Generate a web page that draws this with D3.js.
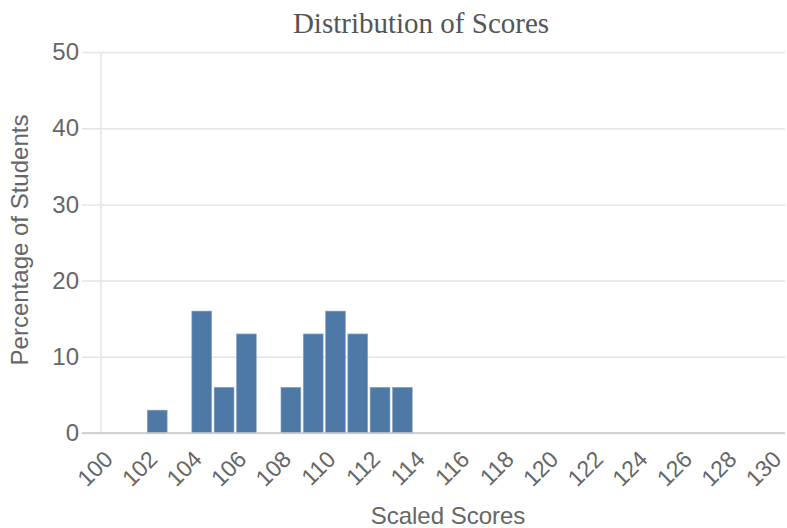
<!DOCTYPE html>
<html>
<head>
<meta charset="utf-8">
<script src="https://cdn.jsdelivr.net/npm/d3@7"></script>
<style>
  html, body { margin: 0; padding: 0; background: #fff; }
  svg { display: block; }
</style>
</head>
<body>
<svg id="chart" width="787" height="528"></svg>
<script>
const scores = [102, 104, 105, 106, 108, 109, 110, 111, 112, 113];
const percents = [3, 16, 6, 13, 6, 13, 16, 13, 6, 6];
const xTickValues = [100, 102, 104, 106, 108, 110, 112, 114, 116, 118, 120, 122, 124, 126, 128, 130];
const yTickValues = [0, 10, 20, 30, 40, 50];
const titleText = "Distribution of Scores";
const xTitle = "Scaled Scores";
const yTitle = "Percentage of Students";

const svg = d3.select("#chart");
const plotLeft = 101, plotRight = 785, plotTop = 52, plotBottom = 433;

const x = d3.scaleLinear().domain([100, 130]).range([101.5, 770]);
const y = d3.scaleLinear().domain([0, 50]).range([plotBottom, plotTop]);

const textColor = "#666";
const gridColor = "#e4e4e4";

// Title
svg.append("text")
  .attr("x", 421).attr("y", 33)
  .attr("text-anchor", "middle")
  .attr("font-family", "'Liberation Serif', 'Times New Roman', serif")
  .attr("font-size", 29)
  .attr("fill", "#555")
  .text(titleText);

// Y grid + ticks
const yAxis = d3.axisLeft(y).tickValues(yTickValues).tickSize(plotRight - 82).tickPadding(3);
const yg = svg.append("g")
  .attr("transform", `translate(${plotRight},0)`)
  .call(yAxis);
yg.select(".domain").remove();
yg.selectAll(".tick line").attr("stroke", gridColor).attr("stroke-width", 1.5);
yg.selectAll(".tick text")
  .attr("fill", textColor)
  .attr("font-family", "'Liberation Sans', Arial, sans-serif")
  .attr("font-size", 24);

// vertical axis line
svg.append("line")
  .attr("x1", plotLeft).attr("x2", plotLeft)
  .attr("y1", plotTop).attr("y2", plotBottom)
  .attr("stroke", gridColor).attr("stroke-width", 1.5);

// Bars
svg.append("g").selectAll("rect")
  .data(scores.map((s, i) => ({ s, p: percents[i] })))
  .join("rect")
  .attr("x", d => x(d.s) + 1.2)
  .attr("width", d => x(d.s + 1) - x(d.s) - 2.4)
  .attr("y", d => y(d.p))
  .attr("height", d => y(0) - y(d.p))
  .attr("fill", "#4e79a7")
  .attr("stroke", "#8fa9c6")
  .attr("stroke-width", 0.6);

// x baseline
svg.append("line")
  .attr("x1", 82).attr("x2", plotRight)
  .attr("y1", plotBottom).attr("y2", plotBottom)
  .attr("stroke", "#c8c8c8").attr("stroke-width", 1.5);

// X tick labels
const xg = svg.append("g");
xg.selectAll("text")
  .data(xTickValues)
  .join("text")
  .attr("transform", d => `translate(${x(d) + 1},449) rotate(-45)`)
  .attr("text-anchor", "end")
  .attr("dy", "0.72em")
  .attr("fill", textColor)
  .attr("font-family", "'Liberation Sans', Arial, sans-serif")
  .attr("font-size", 23)
  .text(d => d);

// Axis titles
svg.append("text")
  .attr("x", 448).attr("y", 524)
  .attr("text-anchor", "middle")
  .attr("fill", textColor)
  .attr("font-family", "'Liberation Sans', Arial, sans-serif")
  .attr("font-size", 24)
  .text(xTitle);

svg.append("text")
  .attr("transform", "translate(28,240) rotate(-90)")
  .attr("text-anchor", "middle")
  .attr("fill", textColor)
  .attr("font-family", "'Liberation Sans', Arial, sans-serif")
  .attr("font-size", 24)
  .text(yTitle);
</script>
</body>
</html>
